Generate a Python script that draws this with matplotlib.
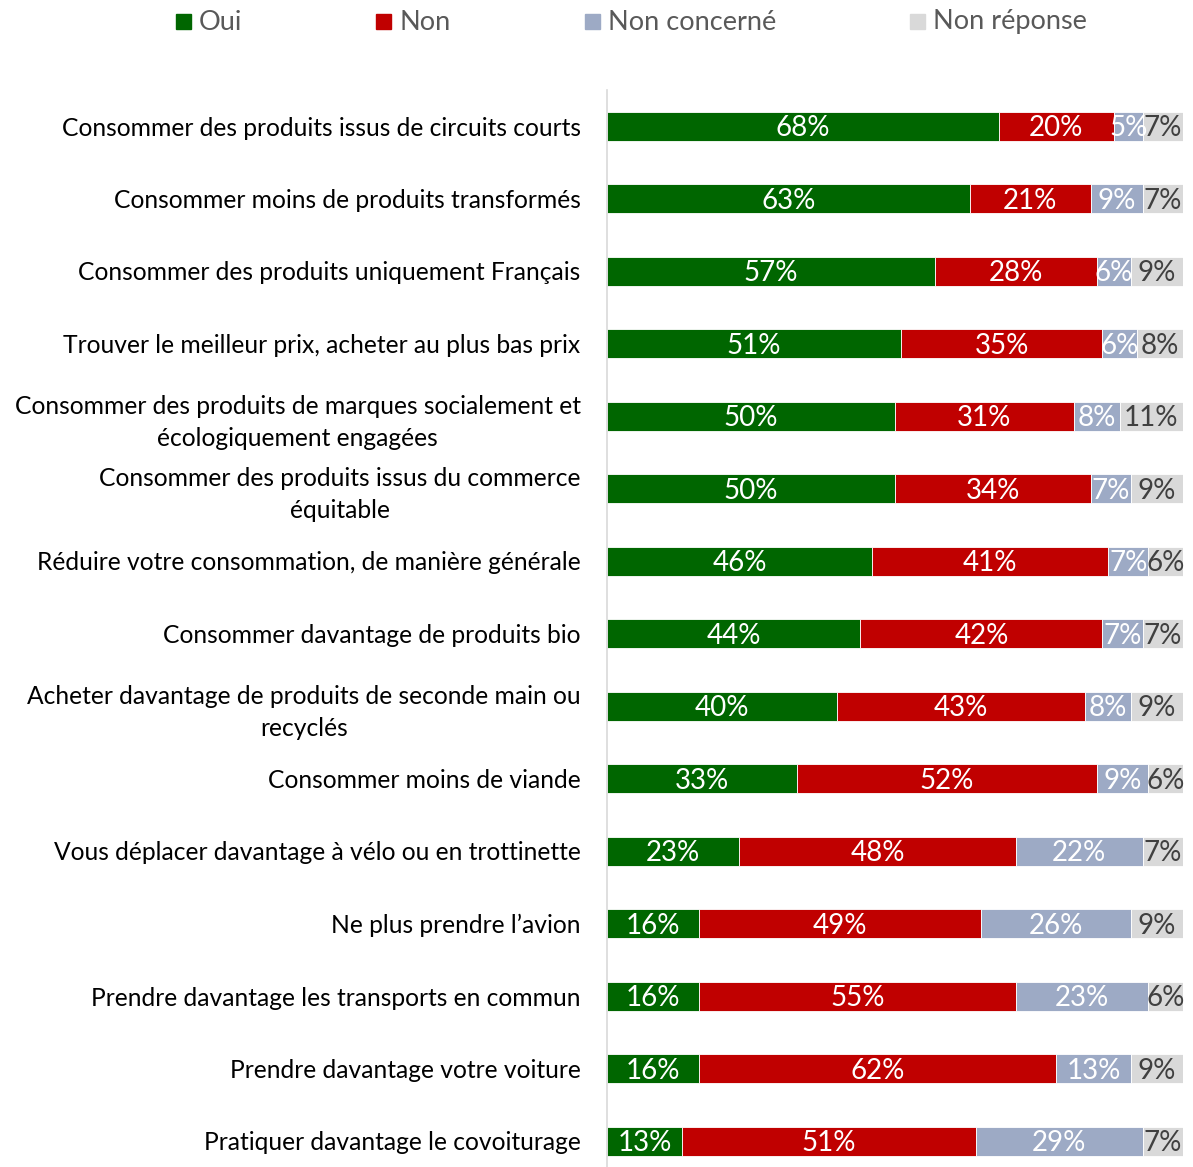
import matplotlib.pyplot as plt
from matplotlib.patches import Rectangle
import numpy as np

plt.rcParams['font.family'] = ['Lato', 'DejaVu Sans']

categories = [
    "Consommer des produits issus de circuits courts",
    "Consommer moins de produits transformés",
    "Consommer des produits uniquement Français",
    "Trouver le meilleur prix, acheter au plus bas prix",
    "Consommer des produits de marques socialement et\nécologiquement engagées",
    "Consommer des produits issus du commerce\néquitable",
    "Réduire votre consommation, de manière générale",
    "Consommer davantage de produits bio",
    "Acheter davantage de produits de seconde main ou\nrecyclés",
    "Consommer moins de viande",
    "Vous déplacer davantage à vélo ou en trottinette",
    "Ne plus prendre l\u2019avion",
    "Prendre davantage les transports en commun",
    "Prendre davantage votre voiture",
    "Pratiquer davantage le covoiturage",
]
oui = [68, 63, 57, 51, 50, 50, 46, 44, 40, 33, 23, 16, 16, 16, 13]
non = [20, 21, 28, 35, 31, 34, 41, 42, 43, 52, 48, 49, 55, 62, 51]
non_concerne = [5, 9, 6, 6, 8, 7, 7, 7, 8, 9, 22, 26, 23, 13, 29]
non_reponse = [7, 7, 9, 8, 11, 9, 6, 7, 9, 6, 7, 9, 6, 9, 7]

series = [("Oui", oui, '#006600', 'white'),
          ("Non", non, '#C00000', 'white'),
          ("Non concerné", non_concerne, '#9DAAC5', 'white'),
          ("Non réponse", non_reponse, '#D9D9D9', '#404040')]

W, H = 1193, 1167
fig = plt.figure(figsize=(W / 100, H / 100), dpi=100)
ax = fig.add_axes([607 / W, 0, (1183 - 607) / W, (H - 90) / H])

y = np.arange(len(categories))
left = np.zeros(len(categories))
for name, vals, color, tcolor in series:
    vals = np.array(vals, dtype=float)
    bars = ax.barh(y, vals, left=left, height=0.4, color=color,
                   edgecolor='white', linewidth=0.6, label=name)
    for b, v in zip(bars, vals):
        ax.text(b.get_x() + b.get_width() / 2, b.get_y() + b.get_height() / 2 + 0.03,
                f"{v:.0f}%", ha='center', va='center', color=tcolor,
                fontsize=20)
    left += vals

ax.set_xlim(0, left.max())
ax.set_ylim((H - 126) / 72.5, -(126 - 90) / 72.5)
ax.set_yticks(y)
ax.set_yticklabels(categories, fontsize=17.7, color='black', ha='right',
                   multialignment='center', linespacing=1.45)
ax.tick_params(axis='y', length=0, pad=19)
ax.set_xticks([])
for s in ['top', 'right', 'bottom']:
    ax.spines[s].set_visible(False)
ax.spines['left'].set_color('#D9D9D9')
ax.spines['left'].set_linewidth(1.2)

# legend drawn by hand to match spacing
leg_x = [176, 376, 585, 910]
for (name, vals, color, tcolor), lx in zip(series, leg_x):
    fig.patches.append(Rectangle((lx / W, 1 - 29 / H), 15 / W, 15 / H,
                                 transform=fig.transFigure, color=color))
    fig.text((lx + 23) / W, 1 - 22 / H, name, ha='left', va='center',
             fontsize=19.5, color='#595959')

fig.savefig('out.png', dpi=100)
